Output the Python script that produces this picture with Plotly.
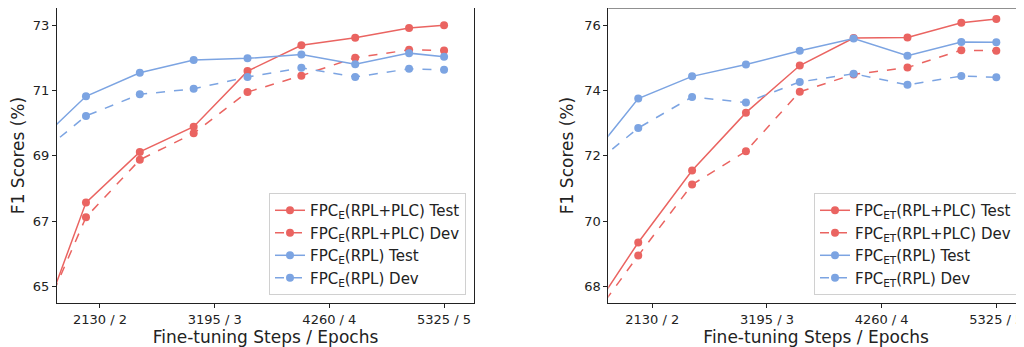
import plotly.graph_objects as go

steps = [1500, 2000, 2500, 3000, 3500, 4000, 4500, 5000, 5325]
tick_vals = [2130, 3195, 4260, 5325]
tick_text = ["2130 / 2", "3195 / 3", "4260 / 4", "5325 / 5"]

# Left panel: FPC_E
e_plc_test = [63.09, 67.57, 69.12, 69.89, 71.59, 72.38, 72.61, 72.91, 72.99]
e_plc_dev = [63.34, 67.12, 68.88, 69.69, 70.95, 71.45, 72.00, 72.24, 72.22]
e_rpl_test = [69.25, 70.82, 71.54, 71.93, 71.98, 72.10, 71.80, 72.14, 72.03]
e_rpl_dev = [68.87, 70.22, 70.88, 71.05, 71.41, 71.69, 71.41, 71.66, 71.63]

# Right panel: FPC_ET
et_plc_test = [66.87, 69.35, 71.55, 73.32, 74.76, 75.60, 75.62, 76.07, 76.18]
et_plc_dev = [66.70, 68.95, 71.12, 72.14, 73.96, 74.49, 74.70, 75.23, 75.21]
et_rpl_test = [71.70, 73.75, 74.43, 74.79, 75.21, 75.59, 75.06, 75.48, 75.47]
et_rpl_dev = [71.51, 72.85, 73.80, 73.63, 74.26, 74.51, 74.17, 74.44, 74.40]

RED = "#EA6461"
BLUE = "#7CA4E2"
FONT = "DejaVu Sans"
INK = "#222222"

fig = go.Figure()

def add(xa, ya, y, name, color, dash, legend, group):
    fig.add_trace(go.Scatter(
        x=steps, y=y, name=name, mode="lines+markers",
        line=dict(color=color, width=1.5, dash=dash),
        marker=dict(color=color, size=8),
        xaxis=xa, yaxis=ya, legend=legend, legendgroup=group,
    ))

add("x", "y", e_plc_test, "FPC<sub>E</sub>(RPL+PLC) Test", RED, "solid", "legend", "a1")
add("x", "y", e_plc_dev, "FPC<sub>E</sub>(RPL+PLC) Dev", RED, "dash", "legend", "a2")
add("x", "y", e_rpl_test, "FPC<sub>E</sub>(RPL) Test", BLUE, "solid", "legend", "a3")
add("x", "y", e_rpl_dev, "FPC<sub>E</sub>(RPL) Dev", BLUE, "dash", "legend", "a4")

add("x2", "y2", et_plc_test, "FPC<sub>ET</sub>(RPL+PLC) Test", RED, "solid", "legend2", "b1")
add("x2", "y2", et_plc_dev, "FPC<sub>ET</sub>(RPL+PLC) Dev", RED, "dash", "legend2", "b2")
add("x2", "y2", et_rpl_test, "FPC<sub>ET</sub>(RPL) Test", BLUE, "solid", "legend2", "b3")
add("x2", "y2", et_rpl_dev, "FPC<sub>ET</sub>(RPL) Dev", BLUE, "dash", "legend2", "b4")

# page body has an 8px margin; figure is sized so it fills the window
W, H = 1016, 339
axis_common = dict(
    showgrid=False, zeroline=False, showline=True, linecolor=INK, linewidth=1,
    ticks="outside", ticklen=4, tickwidth=1, tickcolor=INK,
    tickfont=dict(family=FONT, size=13, color=INK),
)

xstyle = dict(axis_common, tickvals=tick_vals, ticktext=tick_text, mirror=True,
              title=dict(text="Fine-tuning Steps / Epochs",
                         font=dict(family=FONT, size=17, color=INK), standoff=3))

legend_style = dict(
    font=dict(family=FONT, size=15, color=INK),
    bgcolor="rgba(255,255,255,0.85)", bordercolor="#D0D0D0", borderwidth=1,
    xanchor="right", yanchor="bottom", tracegroupgap=0, itemwidth=30,
)

fig.update_layout(
    width=W, height=H,
    margin=dict(l=0, r=0, t=0, b=44, autoexpand=False),
    paper_bgcolor="white", plot_bgcolor="white",
    font=dict(family=FONT, color=INK),
    xaxis=dict(xstyle, domain=[49 / W, 466 / W], range=[1731, 5603], anchor="y"),
    yaxis=dict(axis_common, domain=[0, 1], range=[64.5, 73.52], anchor="x",
               tickvals=[65, 67, 69, 71, 73], mirror=True,
               title=dict(text="F1 Scores (%)", font=dict(family=FONT, size=17, color=INK),
                          standoff=6)),
    xaxis2=dict(xstyle, domain=[600.3 / W, 1.0], range=[1722, 5582], anchor="y2"),
    yaxis2=dict(axis_common, domain=[0, 1], range=[67.5, 76.52], anchor="x2",
                tickvals=[68, 70, 72, 74, 76], mirror=False,
                title=dict(text="F1 Scores (%)", font=dict(family=FONT, size=17, color=INK),
                           standoff=6)),
    legend=dict(legend_style, x=458 / W, y=0.027),
    legend2=dict(legend_style, x=1009 / W, y=0.027),
    showlegend=True,
)

# top spine for right panel (no right spine in the reference)
fig.add_shape(type="line", xref="x2 domain", yref="y2 domain", x0=0, x1=1, y0=1, y1=1,
              line=dict(color=INK, width=1))

fig.write_html("out.html")
